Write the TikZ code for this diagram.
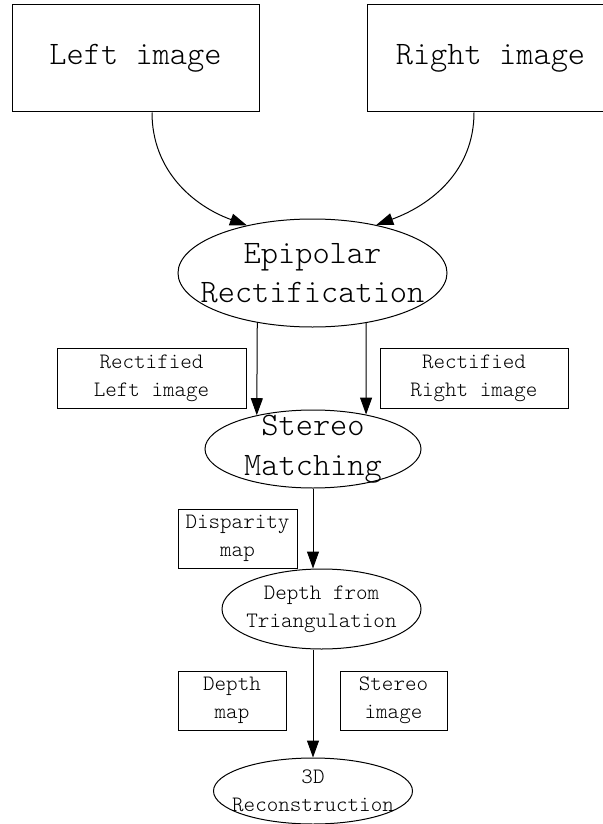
\documentclass[tikz,border=0pt]{standalone}
\usepackage{fontspec}
\setmonofont{Latin Modern Mono Light}
\usetikzlibrary{shapes.geometric, arrows.meta}

\begin{document}
\begin{tikzpicture}[x=0.5pt, y=-0.5pt, line width=0.5pt,
	big/.style={font=\ttfamily\fontsize{16.4}{19.7}\selectfont, align=center},
	small/.style={font=\ttfamily\fontsize{11}{14}\selectfont, align=center},
	box/.style={draw, rectangle, inner sep=0pt},
	oval/.style={draw, ellipse, inner sep=-20pt},
	arr/.style={-{Triangle[length=8.5pt, width=6pt]}}]
					\useasboundingbox (0,0) rectangle (603,824);
					\node (LI) at (135.5,58.5)  [box, big, minimum width=123.5pt, minimum height=53.5pt] {Left image};
					\node (RI) at (490.5,58.5)  [box, big, minimum width=123.5pt, minimum height=53.5pt] {Right image};
					\node (EP) at (312.5,273)   [oval, big, minimum width=134.5pt, minimum height=54pt] {Epipolar\\Rectification};
					\node (RL) at (151.5,378)   [box, small, minimum width=94.5pt, minimum height=30pt] {Rectified\\Left image};
					\node (RR) at (474,378)     [box, small, minimum width=94pt, minimum height=30pt] {Rectified\\Right image};
					\node (SM) at (313,449)     [oval, big, minimum width=108pt, minimum height=39pt] {Stereo\\Matching};
					\node (DM) at (237.5,538.5) [box, small, minimum width=59.5pt, minimum height=29.5pt] {Disparity\\map};
					\node (DT) at (321.5,609)   [oval, small, minimum width=99.5pt, minimum height=40pt] {Depth from\\Triangulation};
					\node (DP) at (232,700.5)   [box, small, minimum width=54pt, minimum height=29.5pt] {Depth\\map};
					\node (SI) at (393.5,700.5) [box, small, minimum width=53.5pt, minimum height=29.5pt] {Stereo\\image};
					\node (RC) at (313,791)     [oval, small, minimum width=99.5pt, minimum height=33pt] {3D\\Reconstruction};
					% Draw the arrows between the nodes
					\draw[arr] ([xshift=8.25pt]LI.south) to[out=-90, in=160] (EP.144);
					\draw[arr] ([xshift=-8.25pt]RI.south) to[out=-90, in=20] (EP.37);
					\draw[arr] (EP.222) -- (SM.149);
					\draw[arr] (EP.317) -- (SM.33);
					\draw[arr] (SM.south) -- (SM.south |- DT.north);
					\draw[arr] (DT.south -| RC.north) -- (RC.north);
			\end{tikzpicture}
\end{document}
